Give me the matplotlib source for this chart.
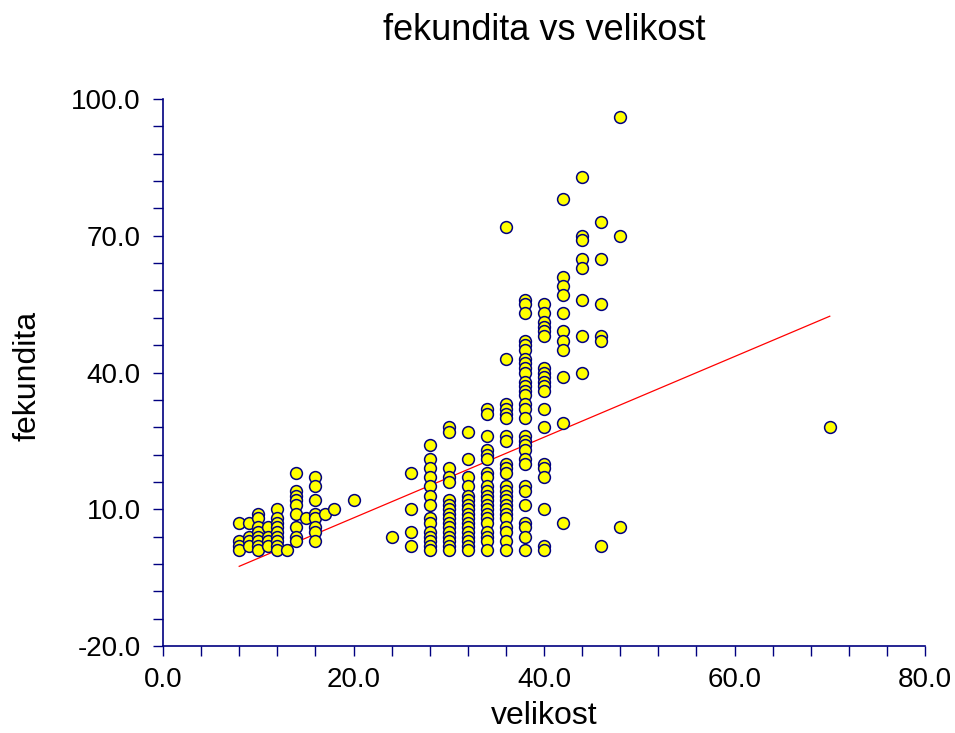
import numpy as np
import matplotlib
matplotlib.use('Agg')
import matplotlib.pyplot as plt
from matplotlib.ticker import MultipleLocator, FixedLocator, FormatStrFormatter

plt.rcParams['font.family'] = ['Liberation Sans', 'DejaVu Sans']

"(1) fecundity values per body size class"
fek_8  = [7, 3, 2, 1]
fek_9  = [7, 4, 3, 2]
fek_10 = [9, 8, 6, 5, 4, 3, 2, 1]
fek_11 = [6, 4, 3, 2]
fek_12 = [10, 8, 7, 6, 5, 4, 3, 2, 1]
fek_13 = [1]
fek_14 = [18, 14, 13, 12, 11, 9, 6, 4, 3]
fek_15 = [8]
fek_16 = [17, 15, 12, 9, 8, 6, 5, 3]
fek_17 = [9]
fek_18 = [10]
fek_20 = [12]
fek_24 = [4]
fek_26 = [18, 10, 5, 2]
fek_28 = [24, 21, 19, 17, 15, 13, 11, 8, 7, 5, 4, 3, 2, 1]
fek_30 = [28, 27, 19, 17, 16, 12, 11, 10, 9, 8, 7, 6, 5, 4, 3, 2, 1]
fek_32 = [27, 21, 17, 15, 13, 12, 11, 10, 9, 8, 7, 6, 5, 4, 3, 2, 1]
fek_34 = [32, 31, 26, 23, 22, 21, 18, 17, 15, 14, 13, 12, 11, 10, 9, 8, 7,
          5, 4, 3, 1]
fek_36 = [72, 43, 33, 32, 31, 30, 26, 25, 20, 19, 18, 15, 14, 13, 12, 11,
          10, 9, 8, 6, 5, 3, 1]
fek_38 = [56, 55, 53, 47, 46, 45, 43, 42, 41, 40, 38, 37, 36, 35, 33, 32,
          30, 26, 25, 24, 23, 21, 20, 15, 14, 11, 7, 6, 4, 1]
fek_40 = [55, 53, 51, 50, 49, 48, 41, 40, 39, 38, 37, 36, 32, 28, 20, 19,
          17, 10, 2, 1]
fek_42 = [78, 61, 59, 57, 53, 49, 47, 45, 39, 29, 7]
fek_44 = [83, 70, 69, 65, 63, 56, 48, 40]
fek_46 = [73, 65, 55, 48, 47, 2]
fek_48 = [96, 70, 6]
fek_70 = [28]

size_classes = [8, 9, 10, 11, 12, 13, 14, 15, 16, 17, 18, 20, 24, 26, 28,
                30, 32, 34, 36, 38, 40, 42, 44, 46, 48, 70]
fek_lists = [fek_8, fek_9, fek_10, fek_11, fek_12, fek_13, fek_14, fek_15,
             fek_16, fek_17, fek_18, fek_20, fek_24, fek_26, fek_28, fek_30,
             fek_32, fek_34, fek_36, fek_38, fek_40, fek_42, fek_44, fek_46,
             fek_48, fek_70]

# linear fit fekundita = a + b * velikost
fit_intercept = -9.6
fit_slope     = 0.885

# axis ticks
x_major = [0, 20, 40, 60, 80]
y_major = [-20, 10, 40, 70, 100]

velikost  = np.concatenate([[s] * len(f) for s, f in zip(size_classes, fek_lists)])
fekundita = np.concatenate(fek_lists)

"(2) figure"
navy = '#000080'
fig = plt.figure(figsize=(9.55, 7.33), dpi=100)
ax = fig.add_axes([0.1707, 0.1187, 0.7979, 0.7462])

ax.scatter(velikost, fekundita, s=72, c='#ffff00', edgecolors=navy,
           linewidths=1.1, zorder=3, clip_on=False)

x_fit = np.array([velikost.min(), velikost.max()])
ax.plot(x_fit, fit_intercept + fit_slope * x_fit, color='red', linewidth=0.9, zorder=2)

ax.set_xlim(0, 80)
ax.set_ylim(-20, 100)
ax.xaxis.set_major_locator(FixedLocator(x_major))
ax.xaxis.set_minor_locator(MultipleLocator(4))
ax.yaxis.set_major_locator(FixedLocator(y_major))
ax.yaxis.set_minor_locator(FixedLocator(np.arange(-20, 101, 6)))
ax.xaxis.set_major_formatter(FormatStrFormatter('%.1f'))
ax.yaxis.set_major_formatter(FormatStrFormatter('%.1f'))

for side in ['top', 'right']:
    ax.spines[side].set_visible(False)
for side in ['left', 'bottom']:
    ax.spines[side].set_color(navy)
    ax.spines[side].set_linewidth(1.2)

ax.tick_params(which='both', direction='out', color=navy, length=7, width=1.0)
ax.tick_params(axis='x', which='major', labelsize=20, pad=8)
ax.tick_params(axis='y', which='major', labelsize=20, pad=9)

fig.text(0.5696, 1 - 30 / 733, 'fekundita vs velikost', fontsize=26,
         ha='center', va='center')
fig.text(0.5696, 1 - 716 / 733, 'velikost', fontsize=23,
         ha='center', va='center')
fig.text(28 / 955, 1 - 376 / 733, 'fekundita', fontsize=23,
         ha='center', va='center', rotation=90)

plt.savefig('out.png', dpi=100)
